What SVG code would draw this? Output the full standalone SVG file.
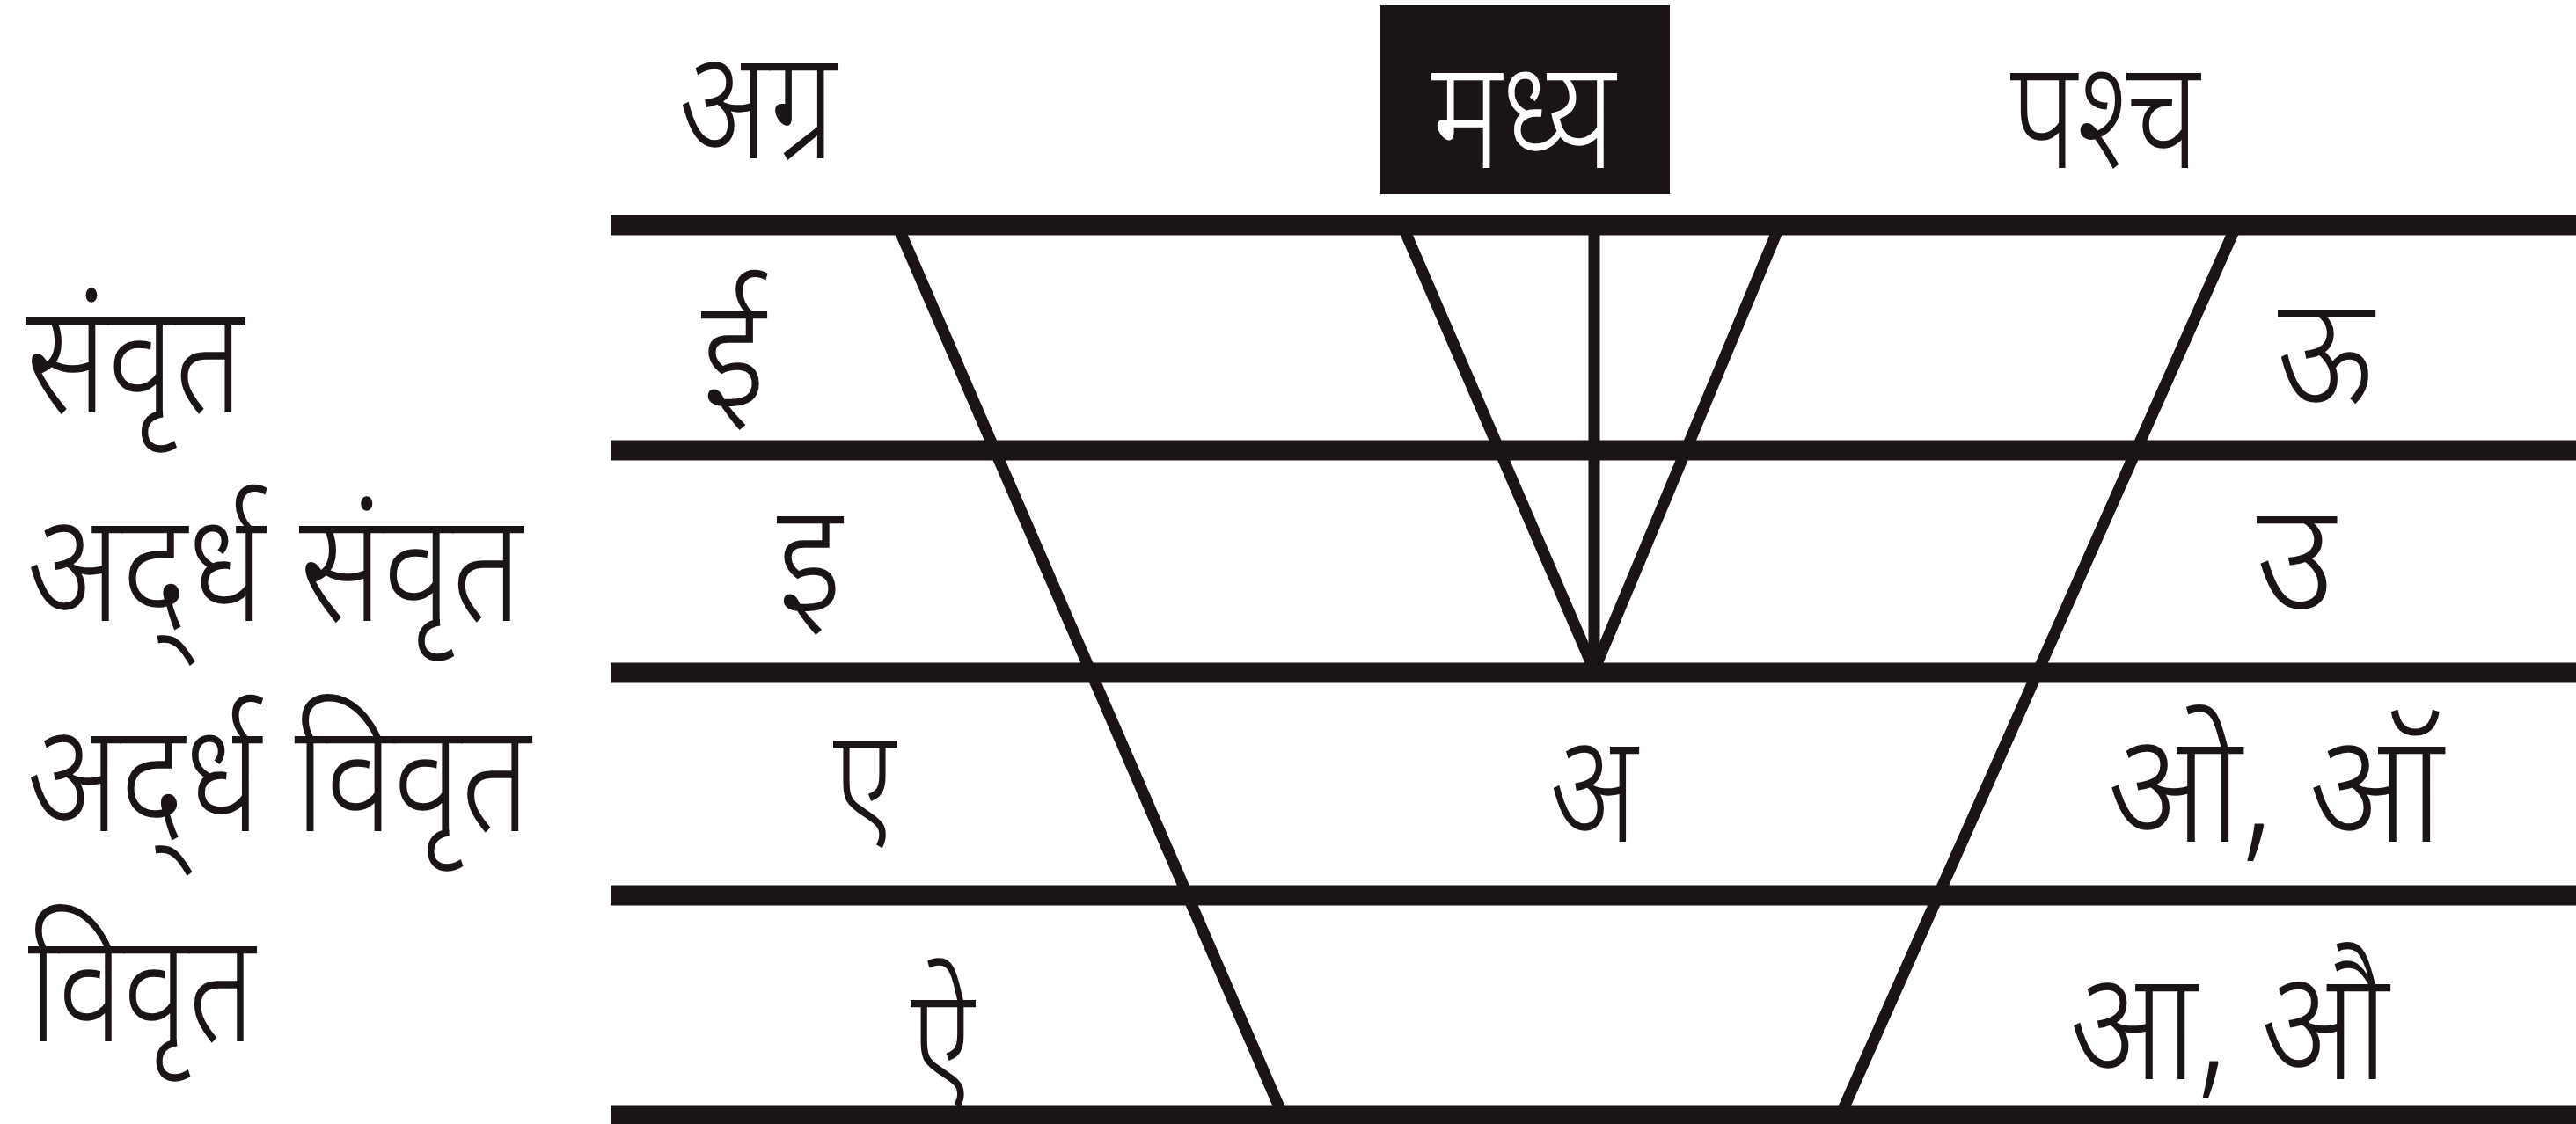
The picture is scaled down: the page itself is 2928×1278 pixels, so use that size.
<svg xmlns="http://www.w3.org/2000/svg" width="2928" height="1278" viewBox="0 0 2928 1278">
<style>
.t{font-family:"Noto Sans","Noto Sans Devanagari","DejaVu Sans",sans-serif;font-size:174px;font-weight:300;fill:#1a1414}
.h{stroke:#1a1414;stroke-width:23;fill:none}
.d{stroke:#1a1414;stroke-width:13;fill:none;stroke-linecap:butt}
</style>
<rect width="2928" height="1278" fill="#fff"/>
<g id="col-agra"><text class="t" x="772" y="180" textLength="178" lengthAdjust="spacingAndGlyphs">अग्र</text></g>
<g id="col-madhya"><rect x="1569" y="6" width="329" height="215" fill="#1a1414"/><text class="t" x="1627" y="191" textLength="209" lengthAdjust="spacingAndGlyphs" style="fill:#fff">मध्य</text></g>
<g id="col-pashch"><text class="t" x="2285" y="191" textLength="215" lengthAdjust="spacingAndGlyphs">पश्च</text></g>
<g id="row-samvrit"><text class="t" x="29" y="469" textLength="248" lengthAdjust="spacingAndGlyphs">संवृत</text></g>
<g id="row-ardh-samvrit"><text class="t" x="31" y="706" textLength="563" lengthAdjust="spacingAndGlyphs">अद्‌र्ध  संवृत</text></g>
<g id="row-ardh-vivrit"><text class="t" x="31" y="945" textLength="572" lengthAdjust="spacingAndGlyphs">अद्‌र्ध  विवृत</text></g>
<g id="row-vivrit"><text class="t" x="32" y="1184" textLength="258" lengthAdjust="spacingAndGlyphs">विवृत</text></g>
<g id="connectors">
<line class="h" x1="694" y1="256" x2="2928" y2="256"/>
<line class="h" x1="694" y1="512" x2="2928" y2="512"/>
<line class="h" x1="694" y1="765" x2="2928" y2="765"/>
<line class="h" x1="694" y1="1018" x2="2928" y2="1018"/>
<line class="h" x1="694" y1="1268" x2="2928" y2="1268"/>
<line class="d" x1="1020" y1="256" x2="1458" y2="1268"/>
<line class="d" x1="2542" y1="256" x2="2092" y2="1268"/>
<line class="d" x1="1594" y1="256" x2="1812" y2="762"/>
<line class="d" x1="2023" y1="256" x2="1812" y2="762"/>
<line class="d" x1="1812" y1="256" x2="1812" y2="762"/>
</g>
<g id="v-ii"><text class="t" x="797" y="462" textLength="73" lengthAdjust="spacingAndGlyphs">ई</text></g>
<g id="v-i"><text class="t" x="883" y="695" textLength="74" lengthAdjust="spacingAndGlyphs">इ</text></g>
<g id="v-e"><text class="t" x="947" y="950" textLength="71" lengthAdjust="spacingAndGlyphs">ए</text></g>
<g id="v-ai"><text class="t" x="1035" y="1245" textLength="72" lengthAdjust="spacingAndGlyphs">ऐ</text></g>
<g id="v-a"><text class="t" x="1762" y="957" textLength="99" lengthAdjust="spacingAndGlyphs">अ</text></g>
<g id="v-uu"><text class="t" x="2589" y="460" textLength="109" lengthAdjust="spacingAndGlyphs">ऊ</text></g>
<g id="v-u"><text class="t" x="2565" y="695" textLength="89" lengthAdjust="spacingAndGlyphs">उ</text></g>
<g id="v-o"><text class="t" x="2396" y="957" textLength="381" lengthAdjust="spacingAndGlyphs">ओ,  ऑ</text></g>
<g id="v-aa"><text class="t" x="2353" y="1227" textLength="362" lengthAdjust="spacingAndGlyphs">आ,  औ</text></g>
</svg>
